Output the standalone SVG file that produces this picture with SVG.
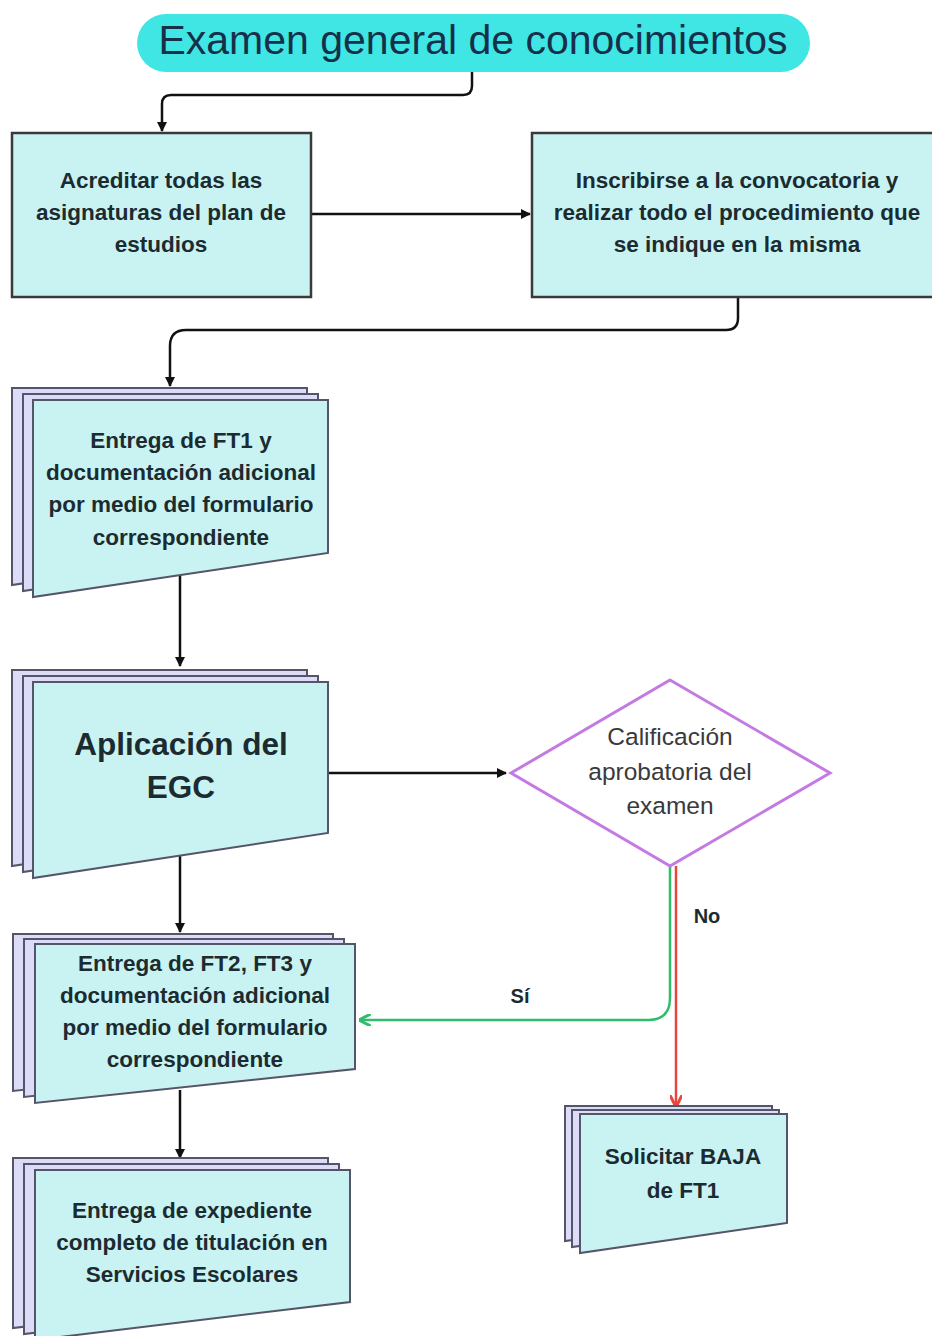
<svg xmlns="http://www.w3.org/2000/svg" width="932" height="1336" viewBox="0 0 932 1336">
<style>
.box{fill:#c9f3f3;stroke:#3a3a3a;stroke-width:2.5}
.back{fill:#dcdcf8;stroke:#55556a;stroke-width:2}
.front{fill:#c9f3f3;stroke:#55556a;stroke-width:2}
.t{font-family:"Liberation Sans",Arial,sans-serif;font-weight:bold;font-size:22.5px;fill:#1c2b30;text-anchor:middle}
.big{font-size:31.5px}
.dt{font-family:"Liberation Sans",Arial,sans-serif;font-size:24.5px;fill:#3a3a3a;text-anchor:middle}
.title{font-family:"Liberation Sans",Arial,sans-serif;font-size:41px;fill:#17304a;text-anchor:middle}
.c{fill:none;stroke:#111;stroke-width:2.5}
</style>
<defs>
<marker id="ab" viewBox="0 0 10 10" refX="9" refY="5" markerWidth="10" markerHeight="10" markerUnits="userSpaceOnUse" orient="auto"><path d="M0,0 L10,5 L0,10 Z" fill="#111"/></marker>
<marker id="ag" viewBox="0 0 10 10" refX="9" refY="5" markerWidth="12" markerHeight="12" markerUnits="userSpaceOnUse" orient="auto"><path d="M0,0 L10,5 L0,10" fill="none" stroke="#2ebd6b" stroke-width="2.5"/></marker>
<marker id="ar" viewBox="0 0 10 10" refX="9" refY="5" markerWidth="12" markerHeight="12" markerUnits="userSpaceOnUse" orient="auto"><path d="M0,0 L10,5 L0,10" fill="none" stroke="#e8453c" stroke-width="2.5"/></marker>
</defs>
<rect width="932" height="1336" fill="#ffffff"/>

<g id="connectors">
<path class="c" d="M472,72 V86 Q472,95 463,95 H171 Q162,95 162,104 V131" marker-end="url(#ab)" stroke-width="2"/>
<path class="c" d="M311,214 H530" marker-end="url(#ab)" stroke-width="3"/>
<path class="c" d="M738,297 V318 Q738,330 726,330 H186 Q170,330 170,346 V386" marker-end="url(#ab)" stroke-width="2"/>
<path class="c" d="M180,575 V666" marker-end="url(#ab)"/>
<path class="c" d="M328,773 H506" marker-end="url(#ab)"/>
<path class="c" d="M180,856 V932" marker-end="url(#ab)"/>
<path class="c" d="M180,1090 V1158" marker-end="url(#ab)"/>
<path d="M670,866 V998 Q670,1020 648,1020 H360" fill="none" stroke="#2ebd6b" stroke-width="2.5" marker-end="url(#ag)"/>
<path d="M676,866 V1106" fill="none" stroke="#e8453c" stroke-width="2.5" marker-end="url(#ar)"/>
<text class="t" x="707" y="923" style="font-size:20px">No</text>
<text class="t" x="520" y="1003" style="font-size:20px">Sí</text>
</g>

<g id="title">
<rect x="137" y="14" width="673" height="58" rx="29" fill="#3fe6e3"/>
<text class="title" x="473" y="54">Examen general de conocimientos</text>
</g>

<g id="acreditar">
<rect class="box" x="12" y="133" width="299" height="164"/>
<text class="t" x="161" y="188">Acreditar todas las</text>
<text class="t" x="161" y="220">asignaturas del plan de</text>
<text class="t" x="161" y="252">estudios</text>
</g>

<g id="inscribirse">
<rect class="box" x="532" y="133" width="410" height="164"/>
<text class="t" x="737" y="188">Inscribirse a la convocatoria y</text>
<text class="t" x="737" y="220">realizar todo el procedimiento que</text>
<text class="t" x="737" y="252">se indique en la misma</text>
</g>

<g id="entrega-ft1">
<path class="back" d="M12,388 H307 V541 L12,585 Z"/>
<path class="back" d="M23,394 H318 V547 L23,591 Z"/>
<path class="front" d="M33,400 H328 V553 L33,597 Z"/>
<text class="t" x="181" y="448">Entrega de FT1 y</text>
<text class="t" x="181" y="480">documentación adicional</text>
<text class="t" x="181" y="512">por medio del formulario</text>
<text class="t" x="181" y="545">correspondiente</text>
</g>

<g id="aplicacion">
<path class="back" d="M12,670 H307 V821 L12,866 Z"/>
<path class="back" d="M23,676 H318 V827 L23,872 Z"/>
<path class="front" d="M33,682 H328 V833 L33,878 Z"/>
<text class="t big" x="181" y="755">Aplicación del</text>
<text class="t big" x="181" y="798">EGC</text>
</g>

<g id="calificacion">
<path d="M670,680 L830,773 L670,866 L511,773 Z" fill="#ffffff" stroke="#c47ae2" stroke-width="3"/>
<text class="dt" x="670" y="745">Calificación</text>
<text class="dt" x="670" y="780">aprobatoria del</text>
<text class="dt" x="670" y="814">examen</text>
</g>

<g id="entrega-ft2">
<path class="back" d="M13,934 H333 V1057 L13,1091 Z"/>
<path class="back" d="M24,939 H344 V1063 L24,1097 Z"/>
<path class="front" d="M35,944 H355 V1069 L35,1103 Z"/>
<text class="t" x="195" y="971">Entrega de FT2, FT3 y</text>
<text class="t" x="195" y="1003">documentación adicional</text>
<text class="t" x="195" y="1035">por medio del formulario</text>
<text class="t" x="195" y="1067">correspondiente</text>
</g>

<g id="expediente">
<path class="back" d="M13,1158 H328 V1290 L13,1328 Z"/>
<path class="back" d="M24,1164 H339 V1296 L24,1334 Z"/>
<path class="front" d="M35,1170 H350 V1302 L35,1340 Z"/>
<text class="t" x="192" y="1218">Entrega de expediente</text>
<text class="t" x="192" y="1250">completo de titulación en</text>
<text class="t" x="192" y="1282">Servicios Escolares</text>
</g>

<g id="baja">
<path class="back" d="M565,1106 H772 V1213 L565,1241 Z"/>
<path class="back" d="M572,1110 H779 V1218 L572,1247 Z"/>
<path class="front" d="M580,1114 H787 V1223 L580,1253 Z"/>
<text class="t" x="683" y="1164">Solicitar BAJA</text>
<text class="t" x="683" y="1198">de FT1</text>
</g>
</svg>
